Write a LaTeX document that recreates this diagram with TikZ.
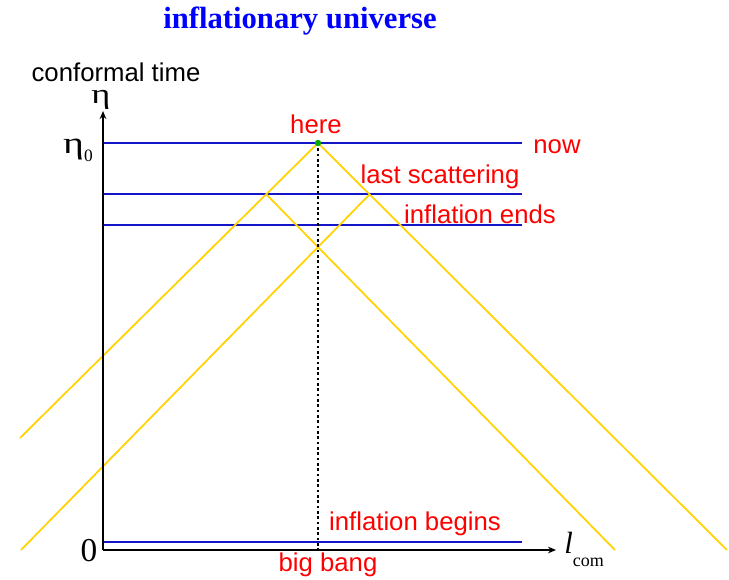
\documentclass[tikz,border=0pt]{standalone}
\usepackage{fontspec}
\setmainfont{Liberation Serif}
\setsansfont{Liberation Sans}
\usetikzlibrary{arrows.meta}
\definecolor{titleblue}{RGB}{0,0,255}
\definecolor{lineblue}{RGB}{20,20,200}
\definecolor{lblred}{RGB}{255,0,0}
\definecolor{ray}{RGB}{255,210,0}
\definecolor{heregreen}{RGB}{0,170,0}
\tikzset{
  hline/.style={draw=lineblue, line width=1.1pt},
  raystyle/.style={draw=ray, line width=1.3pt},
  axisline/.style={draw=black, line width=1.1pt, -{Stealth[length=6pt,width=5pt]}},
  redlbl/.style={text=lblred, font=\sffamily\fontsize{19.3}{21}\selectfont, inner sep=0pt},
  blklbl/.style={text=black, inner sep=0pt},
}
\newcommand{\wideeta}{\scalebox{1.3}[1]{η}}
\begin{document}
\begin{tikzpicture}[x=0.75pt, y=-0.75pt]
\useasboundingbox (0,0) rectangle (729,579);
% coordinates
\coordinate (origin) at (103,550);
\coordinate (ytip) at (103,111);
\coordinate (xtip) at (556,550);
\coordinate (here) at (318,143);
\coordinate (bb) at (318,550);
\coordinate (nowL) at (103,143);   \coordinate (nowR) at (522,143);
\coordinate (lsL) at (103,194);    \coordinate (lsR) at (522,194);
\coordinate (ieL) at (103,225);    \coordinate (ieR) at (522,225);
\coordinate (ibL) at (103,542);    \coordinate (ibR) at (522,542);
\coordinate (lsA) at (266,194);
\coordinate (lsB) at (370,194);
\coordinate (endA) at (20,438);
\coordinate (endB) at (727,550);
\coordinate (endC) at (615,550);
\coordinate (endD) at (21,550);
% horizontal lines
\draw[hline] (nowL) -- (nowR);
\draw[hline] (lsL) -- (lsR);
\draw[hline] (ieL) -- (ieR);
\draw[hline] (ibL) -- (ibR);
% light rays
\draw[raystyle] (endA) -- (here) -- (endB);
\draw[raystyle] (lsA) -- (endC);
\draw[raystyle] (lsB) -- (endD);
% dotted worldline
\draw[black, line width=0.8pt, dash pattern=on 2pt off 2pt] (here) -- (bb);
% axes
\draw[axisline] (origin) -- (ytip);
\draw[axisline] (origin) -- (xtip);
% here dot
\fill[heregreen] (here) circle (3.2);
% labels
\node[text=titleblue, font=\bfseries\fontsize{23}{25}\selectfont, inner sep=0pt] (title) at (300,21) {inflationary universe};
\node[blklbl, font=\sffamily\fontsize{19.3}{21}\selectfont] (ctime) at (116,72) {conformal time};
\node[blklbl, font=\fontsize{21}{22}\selectfont, anchor=base] (eta) at (101,103) {\wideeta};
\node[blklbl, font=\fontsize{23}{24}\selectfont, anchor=base east] (eta0) at (93,153) {\wideeta\raisebox{-6pt}{\fontsize{13}{13}\selectfont 0}};
\node[blklbl, font=\fontsize{25}{26}\selectfont, anchor=base] (zero) at (89,561) {0};
\node[blklbl, font=\fontsize{23}{26}\selectfont, anchor=base west] (lcom) at (564,553) {\textit{l}\raisebox{-10pt}{\fontsize{13.5}{14}\selectfont com}};
\node[redlbl] (lhere) at (316,124) {here};
\node[redlbl] (lnow) at (557,147) {now};
\node[redlbl] (lls) at (440,177) {last scattering};
\node[redlbl] (lie) at (480,214) {inflation ends};
\node[redlbl] (lib) at (415,524) {inflation begins};
\node[redlbl] (lbb) at (328,565) {big bang};
\end{tikzpicture}
\end{document}
